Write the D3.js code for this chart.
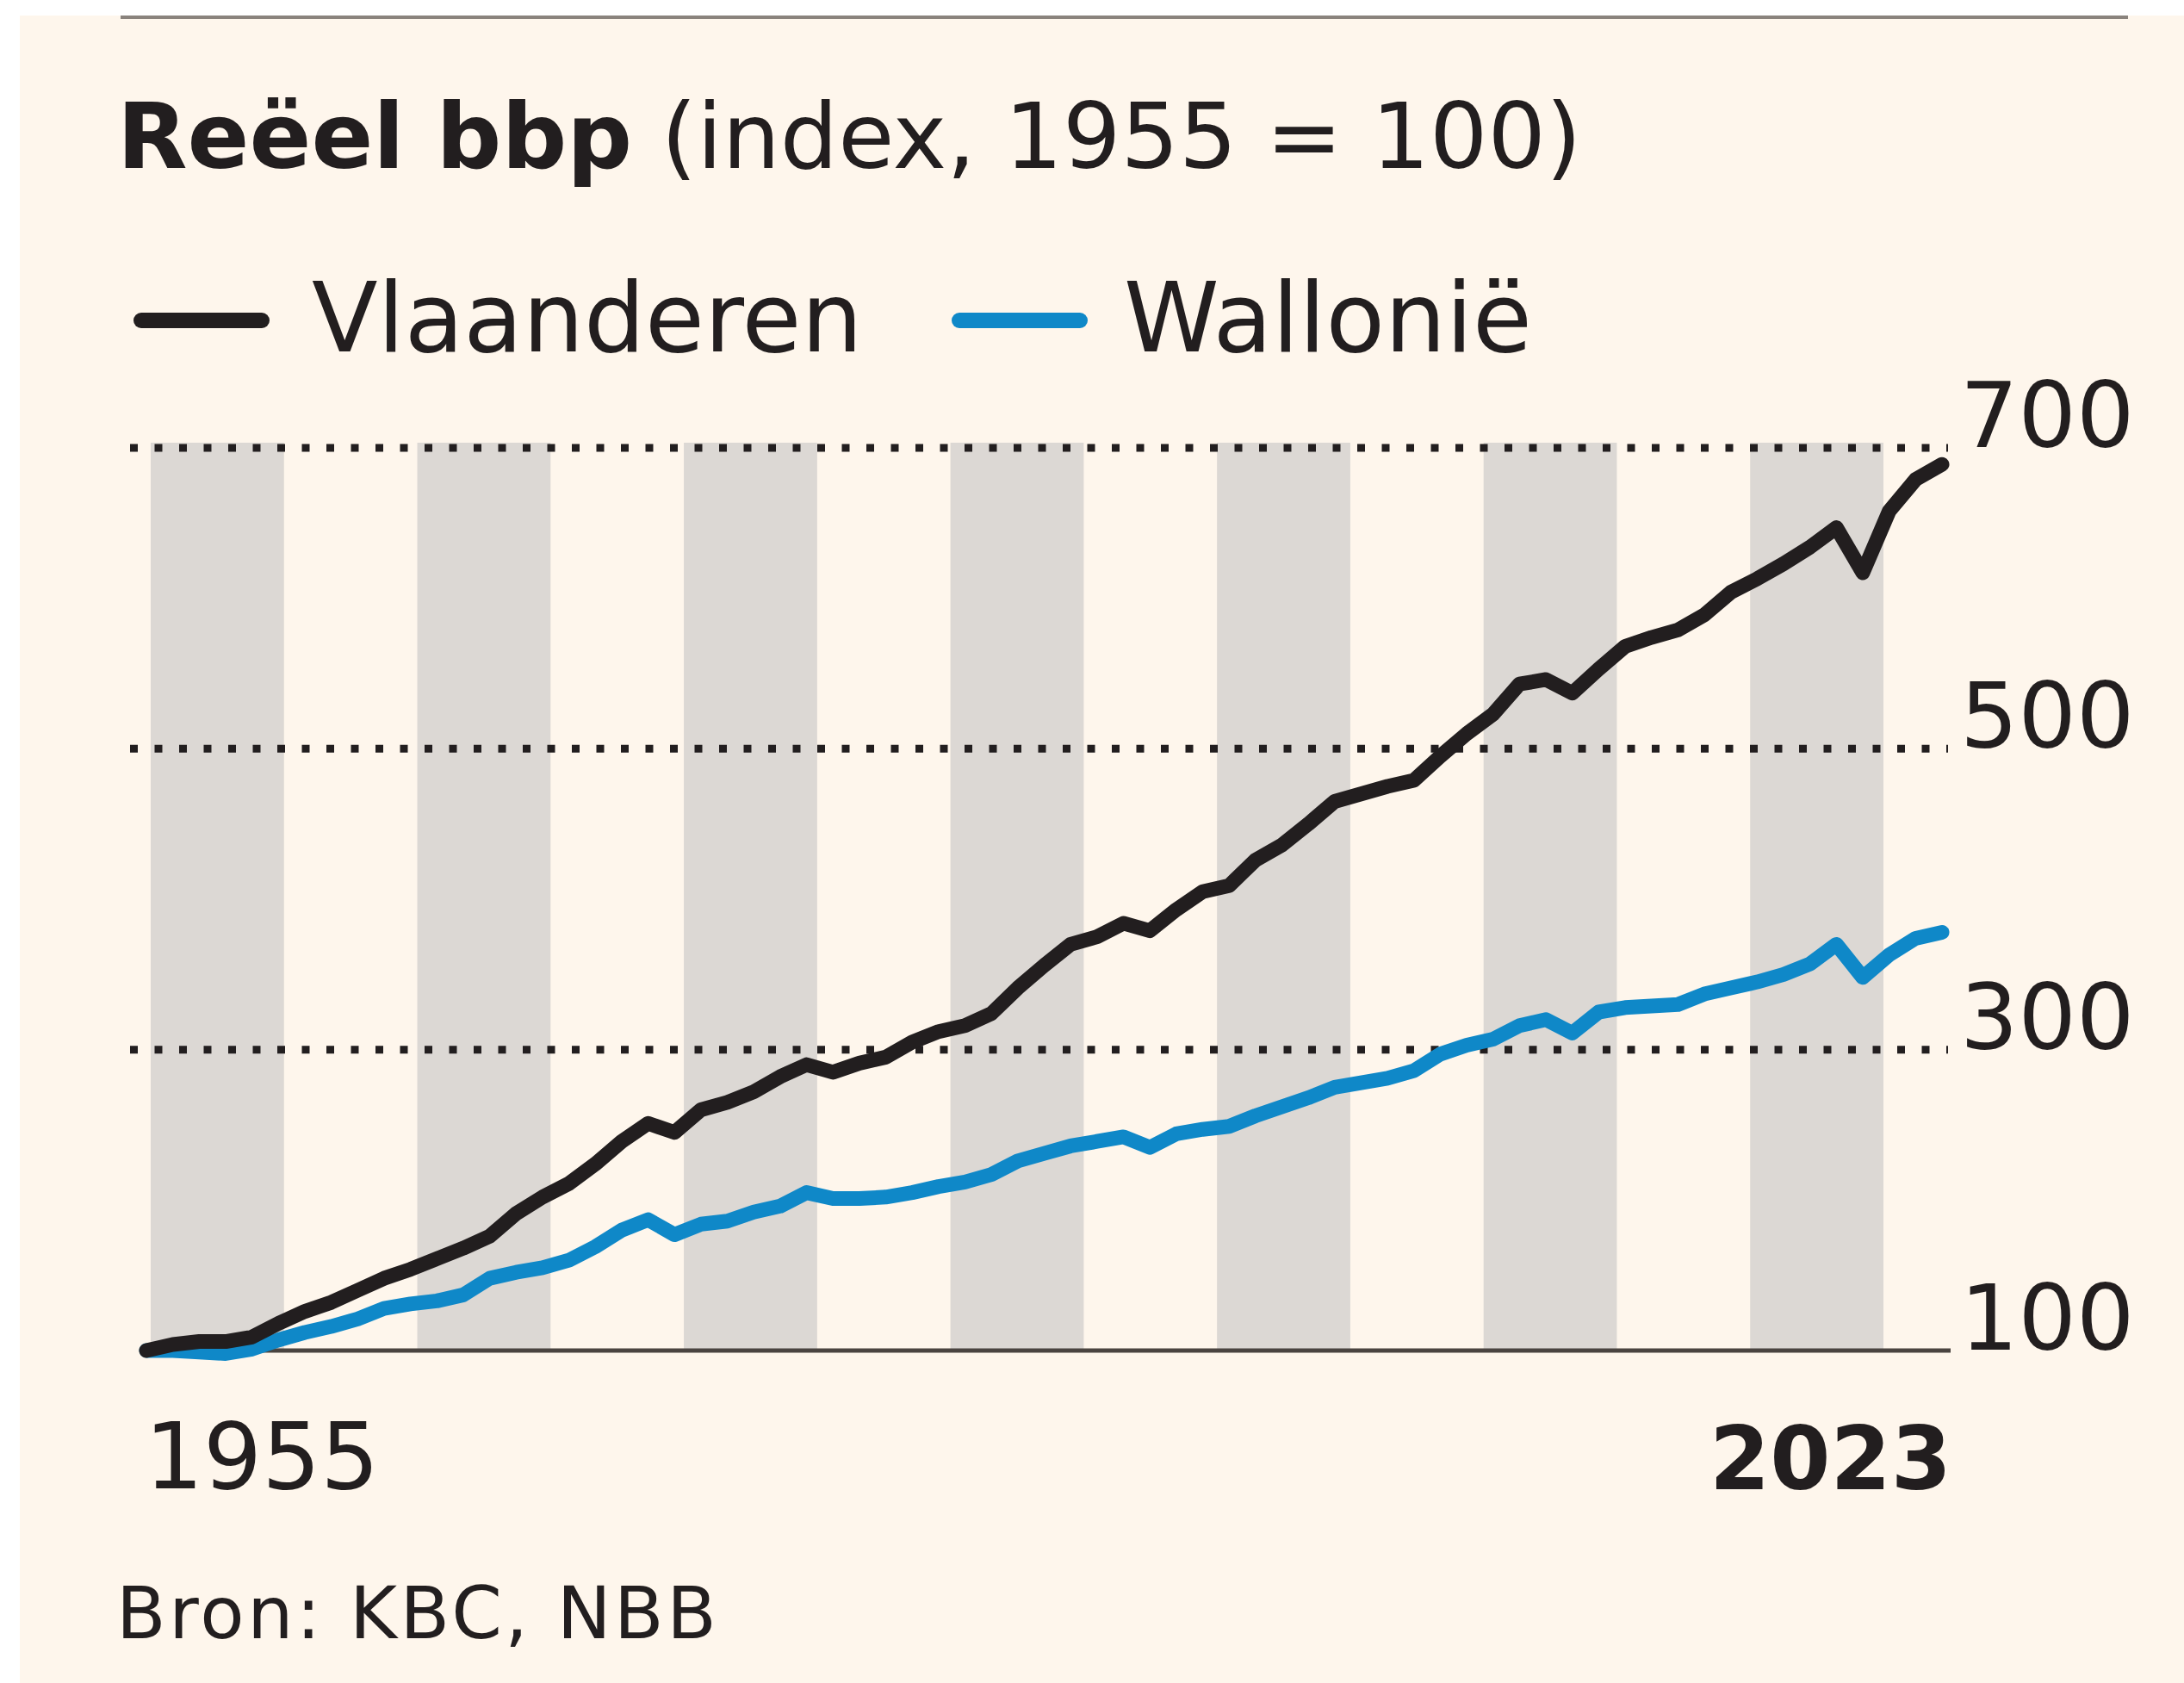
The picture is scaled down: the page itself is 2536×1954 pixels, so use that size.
<!DOCTYPE html>
<meta charset="utf-8">
<html lang="nl">
<head>
<style>
  body { margin: 0; background: #ffffff; }
  svg { display: block; }
  text { font-family: "DejaVu Sans", sans-serif; fill: #221e1f; }
</style>
</head>
<body>
<div id="chart"></div>
<script src="https://d3js.org/d3.v7.min.js"></script>
<script>
// data (index, 1955 = 100)
var years = [1955, 1956, 1957, 1958, 1959, 1960, 1961, 1962, 1963, 1964,
             1965, 1966, 1967, 1968, 1969, 1970, 1971, 1972, 1973, 1974,
             1975, 1976, 1977, 1978, 1979, 1980, 1981, 1982, 1983, 1984,
             1985, 1986, 1987, 1988, 1989, 1990, 1991, 1992, 1993, 1994,
             1995, 1996, 1997, 1998, 1999, 2000, 2001, 2002, 2003, 2004,
             2005, 2006, 2007, 2008, 2009, 2010, 2011, 2012, 2013, 2014,
             2015, 2016, 2017, 2018, 2019, 2020, 2021, 2022, 2023];

var vlaanderen = [100, 104, 106, 106, 109, 118, 126, 132, 140, 148,
                  154, 161, 168, 176, 191, 202, 211, 224, 239, 251,
                  245, 260, 265, 272, 282, 290, 285, 291, 295, 305,
                  312, 316, 324, 341, 356, 370, 375, 384, 379, 393,
                  405, 409, 426, 436, 450, 465, 470, 475, 479, 495,
                  510, 523, 543, 546, 537, 553, 568, 574, 579, 589,
                  604, 613, 623, 634, 647, 617, 658, 679, 689];

var wallonie = [100, 100, 99, 98, 101, 107, 112, 116, 121, 128,
                131, 133, 137, 148, 152, 155, 160, 169, 180, 187,
                177, 184, 186, 192, 196, 205, 201, 201, 202, 205,
                209, 212, 217, 226, 231, 236, 239, 242, 235, 244,
                247, 249, 256, 262, 268, 275, 278, 281, 286, 297,
                303, 307, 316, 320, 311, 325, 328, 329, 330, 337,
                341, 345, 350, 357, 370, 348, 363, 374, 378];

var seriesNames = ["Vlaanderen", "Wallonië"];
var yTicks = [100, 300, 500, 700];
var xLabels = [1955, 2023];
// five-year stripes in the background
var stripes = [1955, 1960, 1965, 1970, 1975, 1980, 1985, 1990, 1995, 2000, 2005, 2010, 2015];

var width = 2536, height = 1954;
var ink = "#221e1f", blue = "#0f88c8";

var svg = d3.select("#chart")
  .append("svg")
    .attr("width", width)
    .attr("height", height);

// cream card
svg.append("rect")
  .attr("x", 23).attr("y", 18)
  .attr("width", width - 23).attr("height", height - 18)
  .attr("fill", "#fef6ec");

svg.append("line")
  .attr("x1", 140).attr("x2", 2471)
  .attr("y1", 20).attr("y2", 20)
  .attr("stroke", "#8a837d")
  .attr("stroke-width", 4);

// title
var title = svg.append("text")
  .attr("x", 136)
  .attr("y", 195)
  .attr("font-size", 106);
title.append("tspan").attr("font-weight", "bold").text("Reëel bbp");
title.append("tspan").text(" (index, 1955 = 100)");

// scales
var x = d3.scaleLinear()
  .domain([1955, 2023])
  .range([170, 2255]);

var y = d3.scaleLinear()
  .domain([100, 700])
  .range([1568, 520]);

var stripeX = d3.scaleBand()
  .domain(stripes)
  .range([175, 2187]);

// stripes
svg.append("g")
  .selectAll("rect")
  .data(stripes.filter(function (d, i) { return i % 2 === 0; }))
  .enter()
  .append("rect")
    .attr("x", function (d) { return stripeX(d); })
    .attr("width", stripeX.bandwidth())
    .attr("y", y(700) - 6)
    .attr("height", y(100) - y(700) + 6)
    .attr("fill", "#dcd8d4");

// dotted gridlines
svg.append("g")
  .selectAll("line")
  .data(yTicks.filter(function (d) { return d > 100; }))
  .enter()
  .append("line")
    .attr("x1", 151)
    .attr("x2", 2262)
    .attr("y1", function (d) { return y(d); })
    .attr("y2", function (d) { return y(d); })
    .attr("stroke", ink)
    .attr("stroke-width", 9)
    .attr("stroke-dasharray", "9 19.5");

// baseline
svg.append("line")
  .attr("x1", 168).attr("x2", 2265)
  .attr("y1", y(100)).attr("y2", y(100))
  .attr("stroke", "#4a4440")
  .attr("stroke-width", 5);

// right axis labels
svg.append("g")
  .selectAll("text")
  .data(yTicks)
  .enter()
  .append("text")
    .attr("x", 2276)
    .attr("y", function (d) { return y(d) - 1; })
    .attr("font-size", 106)
    .text(function (d) { return d; });

// lines
var line = d3.line()
  .x(function (d, i) { return x(years[i]); })
  .y(function (d) { return y(d); });

svg.append("path")
  .datum(wallonie)
  .attr("d", line)
  .attr("fill", "none")
  .attr("stroke", blue)
  .attr("stroke-width", 17)
  .attr("stroke-linejoin", "round")
  .attr("stroke-linecap", "round");

svg.append("path")
  .datum(vlaanderen)
  .attr("d", line)
  .attr("fill", "none")
  .attr("stroke", ink)
  .attr("stroke-width", 17)
  .attr("stroke-linejoin", "round")
  .attr("stroke-linecap", "round");

// legend
var legendX = [164, 1114];
var legendText = [362, 1305];
var legendColor = [ink, blue];
var legend = svg.append("g");
seriesNames.forEach(function (name, i) {
  legend.append("line")
    .attr("x1", legendX[i]).attr("x2", legendX[i] + 140)
    .attr("y1", 372).attr("y2", 372)
    .attr("stroke", legendColor[i])
    .attr("stroke-width", 18)
    .attr("stroke-linecap", "round");
  legend.append("text")
    .attr("x", legendText[i])
    .attr("y", 408)
    .attr("font-size", 112)
    .text(name);
});

// x labels
svg.append("text")
  .attr("x", 168)
  .attr("y", 1728)
  .attr("font-size", 107)
  .text(xLabels[0]);

svg.append("text")
  .attr("x", 2266)
  .attr("y", 1729)
  .attr("text-anchor", "end")
  .attr("font-size", 101)
  .attr("font-weight", "bold")
  .text(xLabels[1]);

// source
svg.append("text")
  .attr("x", 135)
  .attr("y", 1902)
  .attr("font-size", 84)
  .attr("letter-spacing", 3.5)
  .text("Bron: KBC, NBB");
</script>
</body>
</html>
